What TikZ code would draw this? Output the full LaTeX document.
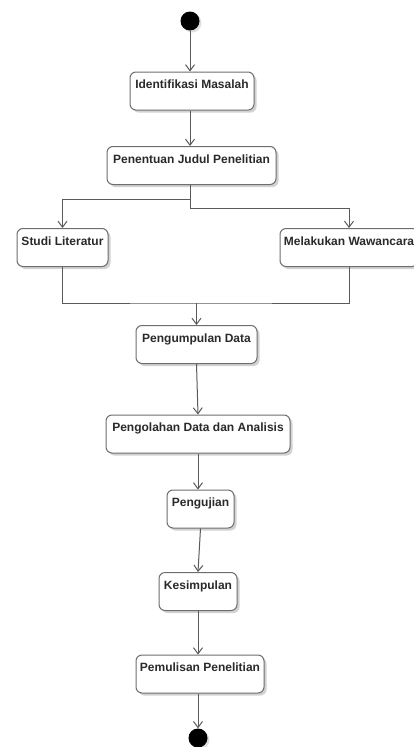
\documentclass[tikz,border=0pt]{standalone}
\usepackage{fontspec}
\setmainfont{Liberation Sans}
\usetikzlibrary{arrows.meta,shadows}
\definecolor{linegray}{HTML}{5A5A5A}
\definecolor{boxgray}{HTML}{6E6E6E}
\definecolor{txtgray}{HTML}{2A2A2A}
\tikzset{
  actbox/.style={draw=boxgray, line width=1pt, rounded corners=6pt, fill=white,
    inner sep=0pt, text height=16.5pt, text depth=21.5pt,
    font=\fontsize{12}{14}\selectfont\bfseries, text=txtgray,
    drop shadow={shadow xshift=2.5pt, shadow yshift=-2.5pt, fill=gray!35, opacity=1}},
  dot/.style={circle, fill=black, inner sep=0pt, minimum size=19pt,
    drop shadow={shadow xshift=2pt, shadow yshift=-2pt, fill=gray!25, opacity=1}},
  arr/.style={draw=linegray, line width=1pt, -{Straight Barb[length=6pt,width=9pt]}},
  ln/.style={draw=linegray, line width=1pt}
}
\begin{document}
\begin{tikzpicture}[x=1pt,y=-1pt]
\useasboundingbox (0,0) rectangle (414,747);
\fill[white] (0,0) rectangle (414,747);
\node[dot] (start) at (190,21) {};
\node[actbox, minimum width=124pt] (ident) at (192,91) {Identifikasi Masalah};
\node[actbox, minimum width=169pt] (pen) at (191.5,165.5) {Penentuan Judul Penelitian};
\node[actbox, minimum width=91pt] (studi) at (62.5,247.5) {Studi Literatur};
\node[actbox, minimum width=138pt] (mel) at (349,247.5) {Melakukan Wawancara};
\node[actbox, minimum width=121pt] (peng) at (196.5,344.5) {Pengumpulan Data};
\node[actbox, minimum width=184pt] (olah) at (198,434) {Pengolahan Data dan Analisis};
\node[actbox, minimum width=67pt] (uji) at (200.5,509) {Pengujian};
\node[actbox, minimum width=78pt] (kes) at (198,591.5) {Kesimpulan};
\node[actbox, minimum width=128pt] (tulis) at (200,674) {Pemulisan Penelitian};
\node[dot] (stop) at (198,738) {};
\coordinate (join) at (196.5,303);
\draw[arr] (start) -- (start |- ident.north);
\draw[arr] (ident.south -| start) -- (pen.north -| start);
\draw[arr] (pen.south -| start) -- ++(0,14) -| (studi.north);
\draw[arr] (pen.south -| start) -- ++(0,23) -| (mel.north);
\draw[ln] (studi.south) |- (join) -| (mel.south);
\draw[arr] (join) -- (peng.north);
\draw[arr] (peng.south) -- (olah.north);
\draw[arr] (olah.south) -- (olah.south |- uji.north);
\draw[arr] (uji.south) -- (kes.north);
\draw[arr] (kes.south) -- (kes.south |- tulis.north);
\draw[arr] (tulis.south -| stop) -- (stop);
\end{tikzpicture}
\end{document}
